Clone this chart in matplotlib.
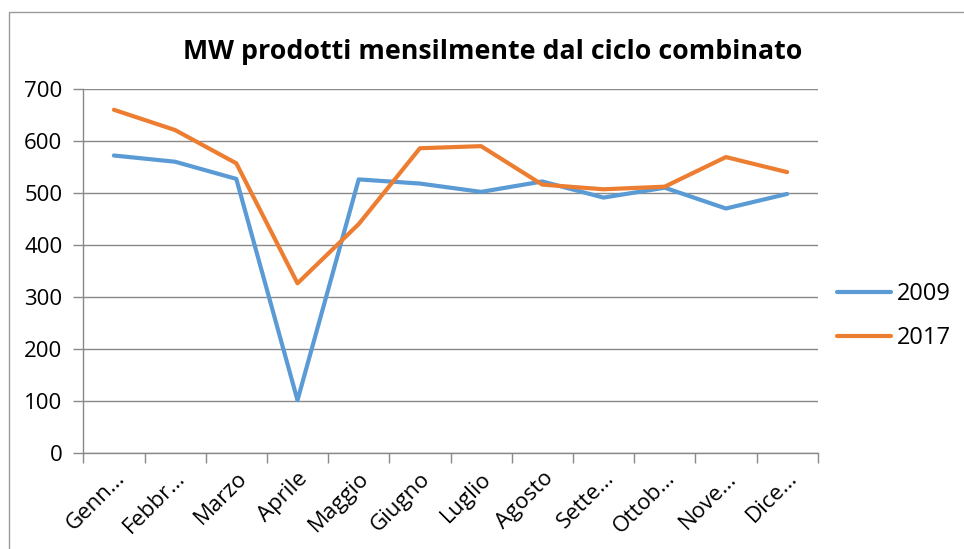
import matplotlib.pyplot as plt
from matplotlib.patches import Rectangle
import numpy as np

plt.rcParams['font.family'] = ['Open Sans', 'DejaVu Sans']

mesi = ["Genn...", "Febbr...", "Marzo", "Aprile", "Maggio", "Giugno",
        "Luglio", "Agosto", "Sette...", "Ottob...", "Nove...", "Dice..."]
mw_2009 = [572, 560, 527, 101, 526, 518, 502, 522, 491, 510, 470, 498]
mw_2017 = [660, 621, 557, 326, 440, 586, 590, 516, 507, 512, 569, 540]
y_ticks = [0, 100, 200, 300, 400, 500, 600, 700]

grid_col = '#898989'

fig = plt.figure(figsize=(9.64, 5.49), dpi=100)
ax = fig.add_axes([83.3 / 964, 1 - 452.7 / 549, (817.7 - 83.3) / 964, (452.7 - 89) / 549])

x = np.arange(len(mesi))
ax.plot(x, mw_2009, color='#5B9BD5', lw=3, label='2009', solid_capstyle='round')
ax.plot(x, mw_2017, color='#ED7D31', lw=3, label='2017', solid_capstyle='round')

ax.set_xlim(-0.5, len(mesi) - 0.5)
ax.set_ylim(0, 700)
ax.set_yticks(y_ticks)
ax.yaxis.grid(True, color=grid_col, lw=1)
ax.set_axisbelow(True)

# confini delle categorie come tick principali, etichette sui minori
ax.set_xticks(np.arange(len(mesi) + 1) - 0.5)
ax.set_xticklabels([])
ax.set_xticks(x, minor=True)
ax.set_xticklabels(mesi, minor=True, rotation=45, ha='right', rotation_mode='anchor')
ax.tick_params(axis='x', which='major', length=7, color=grid_col, width=1)
ax.tick_params(axis='x', which='minor', length=0, pad=11, labelsize=16)
ax.tick_params(axis='y', length=7, color=grid_col, width=1, labelsize=16, pad=8)

for s in ['top', 'right']:
    ax.spines[s].set_visible(False)
for s in ['left', 'bottom']:
    ax.spines[s].set_color(grid_col)
    ax.spines[s].set_linewidth(1)

fig.text(493 / 964, 1 - 52 / 549, 'MW prodotti mensilmente dal ciclo combinato',
         ha='center', va='center', fontsize=19.3, fontweight='bold')

ax.legend(loc='center left', bbox_to_anchor=(1.0, 0.376), frameon=False,
          fontsize=17, handlelength=2.3, handletextpad=0.25, labelspacing=0.85,
          borderpad=0.3)

fig.patches.append(Rectangle((9 / 964, -0.1), 1.2, 1 - 12.5 / 549 + 0.1,
                             transform=fig.transFigure, fill=False,
                             edgecolor='#9a9a9a', lw=1))

fig.savefig('out.png', dpi=100)
